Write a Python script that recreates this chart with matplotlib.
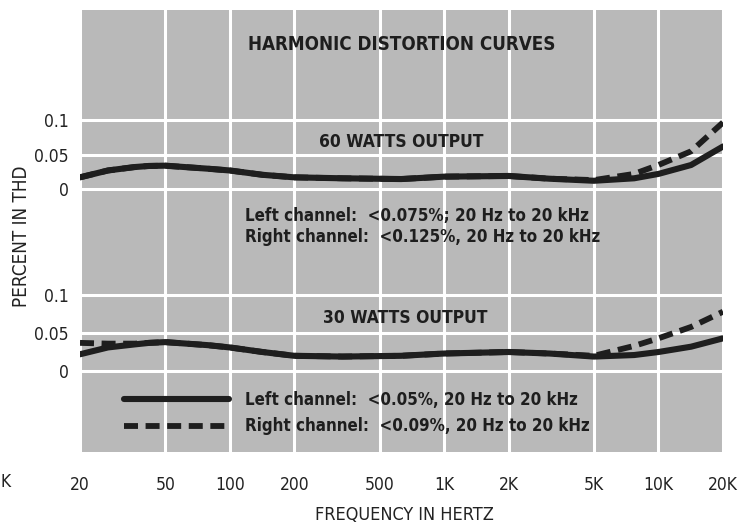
import numpy as np
import matplotlib
matplotlib.use("Agg")
import matplotlib.pyplot as plt

plt.rcParams['font.family'] = ['DejaVu Sans']
plt.rcParams['font.stretch'] = 'condensed'

# frequencies (Hz)
freq = [20, 27, 36, 42, 50, 79, 100, 142, 200, 335, 630, 1000, 2000, 3100, 5000, 7700, 10000, 14200, 20000]

# 60 watts output, percent THD
w60_left = [0.017, 0.027, 0.032, 0.0336, 0.034, 0.0296, 0.027, 0.0207, 0.017, 0.0156, 0.0145,
            0.018, 0.019, 0.015, 0.012, 0.0156, 0.022, 0.035, 0.062]
w60_right = [0.017, 0.027, 0.032, 0.0336, 0.034, 0.0296, 0.027, 0.0207, 0.017, 0.0156, 0.0145,
             0.018, 0.019, 0.015, 0.013, 0.022, 0.035, 0.055, 0.097]

# 30 watts output
w30_left = [0.022, 0.031, 0.035, 0.037, 0.038, 0.034, 0.031, 0.025, 0.020, 0.019, 0.020,
            0.023, 0.025, 0.023, 0.019, 0.021, 0.025, 0.032, 0.043]
w30_right = [0.037, 0.036, 0.036, 0.037, 0.038, 0.034, 0.031, 0.025, 0.020, 0.019, 0.020,
             0.023, 0.025, 0.023, 0.020, 0.033, 0.043, 0.058, 0.078]

xticks = [20, 50, 100, 200, 500, 1000, 2000, 5000, 10000, 20000]
xticklabels = ['20', '50', '100', '200', '500', '1K', '2K', '5K', '10K', '20K']
yticks = [0, 0.05, 0.1]
yticklabels = ['0', '0.05', '0.1']

W, H = 742, 528
fig = plt.figure(figsize=(W / 100, H / 100), dpi=100)
fig.patch.set_facecolor('white')

grey = '#b9b9b9'
ink = '#1e1e1e'
txt = '#222222'

def px(x, y):
    return x / W, 1 - y / H

left, right = 80, 723
mid, top, bottom = 250, 10, 452
ax1 = fig.add_axes([left / W, 1 - mid / H, (right - left) / W, (mid - top) / H])
ax2 = fig.add_axes([left / W, 1 - bottom / H, (right - left) / W, (bottom - mid) / H])

ax1.set_ylim(-(mid - 189) / 686, (189 - top) / 686)
ax2.set_ylim(-(bottom - 371) / 760, (371 - mid) / 760)

for ax in (ax1, ax2):
    ax.set_facecolor(grey)
    ax.set_xscale('log')
    ax.set_xlim(20, 20000)
    for s in ax.spines.values():
        s.set_visible(False)
    ax.set_xticks(xticks)
    ax.minorticks_off()
    ax.set_yticks(yticks)
    ax.set_yticklabels(yticklabels, fontsize=12.5)
    ax.tick_params(length=0, pad=8, labelcolor=txt)
    ax.grid(True, color='white', lw=2.2)
    ax.set_axisbelow(True)

ax1.set_xticklabels([])
ax2.set_xticklabels(xticklabels, fontsize=12.5)
ax2.tick_params(axis='x', pad=17)

# curves
ax1.plot(freq, w60_right, color=ink, lw=4.2, ls=(0, (2.4, 1.3)))
ax1.plot(freq, w60_left, color=ink, lw=4.4, solid_capstyle='round')
l_right, = ax2.plot(freq, w30_right, color=ink, lw=4.2, ls=(0, (2.4, 1.3)))
l_left, = ax2.plot(freq, w30_left, color=ink, lw=4.4, solid_capstyle='round')

fs = 12.2
leg = ax2.legend([l_left, l_right],
                 ['Left channel:  <0.05%, 20 Hz to 20 kHz',
                  'Right channel:  <0.09%, 20 Hz to 20 kHz'],
                 loc='upper left',
                 bbox_to_anchor=((124 - left) / (right - left), (bottom - 391) / (bottom - mid)),
                 frameon=False, borderpad=0, borderaxespad=0,
                 handlelength=6.2, handletextpad=0.95, labelspacing=0.5,
                 prop={'size': fs, 'weight': 'bold', 'stretch': 'condensed'})
for t in leg.get_texts():
    t.set_color(ink)

fig.text(*px(402, 44), 'HARMONIC DISTORTION CURVES', ha='center', va='center',
         fontsize=13.5, fontweight='bold', color=ink)
fig.text(*px(401, 142), '60 WATTS OUTPUT', ha='center', va='center',
         fontsize=12.5, fontweight='bold', color=ink)
fig.text(*px(405, 318), '30 WATTS OUTPUT', ha='center', va='center',
         fontsize=12.5, fontweight='bold', color=ink)
fig.text(*px(245, 216), 'Left channel:  <0.075%; 20 Hz to 20 kHz', ha='left', va='center',
         fontsize=fs, fontweight='bold', color=ink)
fig.text(*px(245, 237), 'Right channel:  <0.125%, 20 Hz to 20 kHz', ha='left', va='center',
         fontsize=fs, fontweight='bold', color=ink)

fig.text(*px(22, 236), 'PERCENT IN THD', rotation=90, ha='center', va='center',
         fontsize=13.5, color=txt)
fig.text(*px(404, 515), 'FREQUENCY IN HERTZ', ha='center', va='center',
         fontsize=13, color=txt)
fig.text(*px(0, 482), 'K', ha='left', va='center', fontsize=12.5, color=txt)

fig.savefig('out.png', dpi=100)
